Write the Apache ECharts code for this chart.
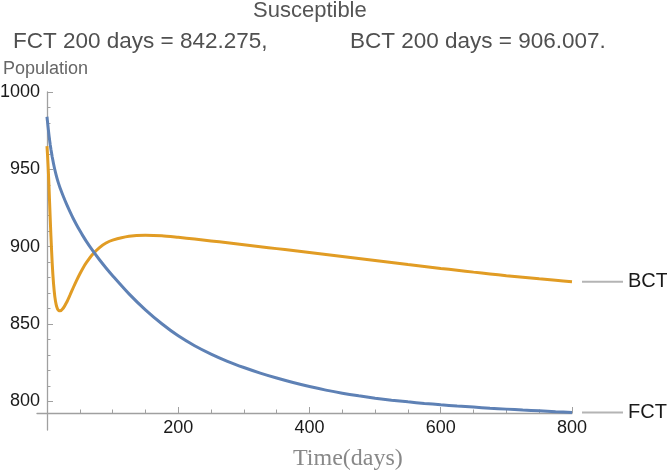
<!DOCTYPE html>
<html>
<head>
<meta charset="utf-8">
<script src="https://cdn.jsdelivr.net/npm/echarts@6/dist/echarts.min.js"></script>
<style>
  html, body { margin: 0; padding: 0; background: #fff; }
  #chart { width: 667px; height: 471px; }
</style>
</head>
<body>
<div id="chart"></div>
<script>
// time samples (days)
const days = [0, 1, 2, 3, 4, 5, 6, 8, 10, 12, 14, 16, 18, 20, 25, 30, 35, 40, 45, 50, 55, 60, 70, 80, 90, 100,
  125, 150, 175, 200, 225, 250, 275, 300, 325, 350, 375, 400, 425, 450, 475, 500, 525, 550, 575, 600,
  625, 650, 675, 700, 725, 750, 775, 800];

// FCT (blue)
const fct = [984, 980, 976, 972.3, 968.9, 965.8, 963, 958, 953.6, 949.7, 946.3, 943.2, 940.4, 937.9, 932.4, 927.3,
  922.6, 918.2, 914.2, 910.4, 906.8, 903.4, 897.2, 891.5, 886.2, 881.2,
  869.45, 859.1, 850.1, 842.3, 835.9, 830.5, 825.8, 821.8, 818.2, 815.0, 812.1, 809.5, 807.2, 805.2, 803.5, 802.0,
  800.7, 799.6, 798.6, 797.7, 796.9, 796.2, 795.5, 794.9, 794.3, 793.8, 793.2, 792.7];

// BCT (orange)
const bct = [965, 958, 949.5, 939.5, 928.5, 917.5, 907, 889, 876, 867.5, 862.5, 859.8, 858.7, 858.5, 860.3, 864,
  868.6, 873.4, 878, 882.3, 886.2, 889.6, 895.2, 899.4, 902.3, 904.2,
  906.7, 907.35, 907.0, 906.0, 904.9, 903.7, 902.45, 901.2, 899.95, 898.7, 897.45, 896.2, 894.9, 893.6, 892.3, 891.0,
  889.7, 888.4, 887.15, 885.9, 884.7, 883.5, 882.35, 881.2, 880.2, 879.2, 878.25, 877.3];

const xMajor = [200, 400, 600, 800];
const xMinor = [50, 100, 150, 250, 300, 350, 450, 500, 550, 650, 700, 750];
const yMajor = [800, 850, 900, 950, 1000];
const yMinor = [810, 820, 830, 840, 860, 870, 880, 890, 910, 920, 930, 940, 960, 970, 980, 990];

const axisGray = "#a0a0a0";

const chart = echarts.init(document.getElementById("chart"), null, { renderer: "canvas" });

function xAxisOf(ticks, len, labels) {
  return {
    type: "value",
    min: -15.2,
    max: 800,
    position: "bottom",
    offset: -17,
    axisLine: { show: labels, lineStyle: { color: axisGray, width: 1.3 } },
    axisTick: { show: true, inside: true, length: len, customValues: ticks, lineStyle: { color: axisGray, width: 1 } },
    axisLabel: { show: labels, customValues: ticks, fontSize: 18, color: "#1a1a1a", margin: 6,
      fontFamily: "Liberation Sans", formatter: (v) => String(v) },
    splitLine: { show: false },
  };
}

function yAxisOf(ticks, len, labels) {
  return {
    type: "value",
    min: 781.4,
    max: 1000,
    position: "left",
    offset: -10,
    axisLine: { show: labels, lineStyle: { color: axisGray, width: 1.3 } },
    axisTick: { show: true, inside: true, length: len, customValues: ticks, lineStyle: { color: axisGray, width: 1 } },
    axisLabel: { show: labels, customValues: ticks, fontSize: 18, color: "#1a1a1a", margin: 7,
      fontFamily: "Liberation Sans", formatter: (v) => String(v) },
    splitLine: { show: false },
  };
}

function endLabel(name) {
  return {
    show: true,
    distance: 10,
    formatter: "{l|}{t|" + name + "}",
    rich: {
      l: { width: 41, height: 2, backgroundColor: "#b4b4b4" },
      t: { fontSize: 20, color: "#1a1a1a", padding: [0, 0, 0, 5], fontFamily: "Liberation Sans" },
    },
  };
}

function text(str, left, top, size, color, family) {
  return {
    text: str,
    left: left,
    top: top,
    padding: 0,
    textStyle: { fontSize: size, fontWeight: "normal", color: color, fontFamily: family || "Liberation Sans" },
  };
}

chart.setOption({
  animation: false,
  title: [
    text("Susceptible", 253, 0, 22, "#555"),
    text("FCT 200 days = 842.275,", 13, 30, 22.5, "#505050"),
    text("BCT 200 days = 906.007.", 350, 30, 22.5, "#505050"),
    text("Population", 3, 60, 18, "#666"),
    text("Time(days)", 293, 447, 24, "#888", "Liberation Serif"),
  ],
  grid: { left: 37, right: 95, top: 92, bottom: 41, containLabel: false, outerBoundsMode: "none" },
  xAxis: [xAxisOf(xMajor, 6, true), xAxisOf(xMinor, 3.5, false)],
  yAxis: [yAxisOf(yMajor, 6, true), yAxisOf(yMinor, 3.5, false)],
  series: [
    {
      name: "FCT",
      type: "line",
      smooth: 0.25,
      showSymbol: false,
      data: days.map((d, i) => [d, fct[i]]),
      lineStyle: { color: "#5e81b5", width: 3 },
      itemStyle: { color: "#5e81b5" },
      endLabel: endLabel("FCT"),
      z: 3,
    },
    {
      name: "BCT",
      type: "line",
      smooth: 0.25,
      showSymbol: false,
      data: days.map((d, i) => [d, bct[i]]),
      lineStyle: { color: "#e19c24", width: 3 },
      itemStyle: { color: "#e19c24" },
      endLabel: endLabel("BCT"),
      z: 2,
    },
  ],
});
</script>
</body>
</html>
